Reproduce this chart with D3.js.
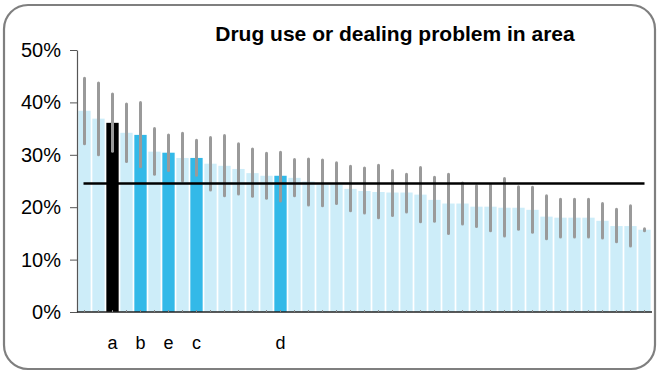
<!DOCTYPE html>
<html><head><meta charset="utf-8">
<script src="https://cdn.jsdelivr.net/npm/d3@7/dist/d3.min.js"></script>
<style>html,body{margin:0;padding:0;background:#fff;}svg{display:block;}</style>
</head><body>
<svg id="chart" width="659" height="373"></svg>
<script>
const title = "Drug use or dealing problem in area";
const labels = ["","","a","","b","","e","","c","","","","","","d","","","","","","","","","","","","","","","","","","","","","","","","","",""];
const kinds = ["o","o","k","o","h","o","h","o","h","o","o","o","o","o","h","o","o","o","o","o","o","o","o","o","o","o","o","o","o","o","o","o","o","o","o","o","o","o","o","o","o"];
const values = [38.4,36.9,36.1,34.2,33.8,30.6,30.4,29.4,29.4,28.3,27.9,27.3,26.5,26.0,26.0,25.6,24.9,24.3,24.3,23.5,23.1,22.9,22.8,22.8,22.4,21.4,20.7,20.7,20.1,20.1,19.9,19.9,19.5,18.2,18.0,18.0,18.0,17.4,16.4,16.4,15.7];
const upper = [44.6,43.7,41.6,39.7,40.0,35.0,33.8,34.1,32.8,33.3,33.7,32.1,31.1,30.3,30.5,29.1,29.2,29.0,28.5,27.8,27.5,28.0,27.0,26.3,27.6,25.7,26.3,24.6,24.1,24.3,25.5,23.9,23.8,22.2,21.5,21.5,21.5,20.7,19.6,20.3,15.9];
const lower = [32.1,30.0,30.7,28.7,27.7,26.3,27.0,25.0,26.1,23.3,22.2,22.5,22.1,21.7,21.2,22.2,20.4,20.3,20.7,19.3,18.9,18.0,18.4,19.1,17.2,17.3,15.0,16.8,16.3,15.5,14.5,15.8,15.2,14.0,14.3,14.3,14.3,14.1,13.4,12.6,15.5];
const average = 24.5;
const yTicks = [0,10,20,30,40,50];

const svg = d3.select("#chart");
const ids = values.map((v,i)=>i);
const x = d3.scaleBand().domain(ids).range([77.5,651.5]).paddingInner(0.12).paddingOuter(0.06);
const y = d3.scaleLinear().domain([0,50]).range([312,50]);
const color = {o:"#cdedf9", h:"#33b9e8", k:"#000000"};

svg.append("rect").attr("x",4).attr("y",5).attr("width",651).attr("height",364)
  .attr("rx",24).attr("ry",24).attr("fill","#fff").attr("stroke","#7f7f7f").attr("stroke-width",2.2);

svg.append("text").attr("x",395).attr("y",41).attr("text-anchor","middle")
  .attr("font-family","Liberation Sans, Arial, sans-serif").attr("font-weight","bold")
  .attr("font-size",21).attr("fill","#000").text(title);

svg.append("g").selectAll("rect").data(ids).join("rect")
  .attr("x",i=>x(i)).attr("width",x.bandwidth())
  .attr("y",i=>y(values[i])).attr("height",i=>y(0)-y(values[i]))
  .attr("fill",i=>color[kinds[i]]);

svg.append("g").selectAll("line").data(ids).join("line")
  .attr("x1",i=>x(i)+x.bandwidth()/2).attr("x2",i=>x(i)+x.bandwidth()/2)
  .attr("y1",i=>y(upper[i])).attr("y2",i=>y(lower[i]))
  .attr("stroke","#9a9a9a").attr("stroke-width",3).attr("stroke-linecap","round");

svg.append("line")
  .attr("x1",x(0)+x.bandwidth()/2-1).attr("x2",x(ids.length-1)+x.bandwidth()/2)
  .attr("y1",y(average)).attr("y2",y(average))
  .attr("stroke","#000").attr("stroke-width",2.5);

const yAxis = svg.append("g").attr("transform","translate(77,0)")
  .call(d3.axisLeft(y).tickValues(yTicks).tickFormat(d=>d+"%").tickSize(7).tickSizeOuter(0).tickPadding(9));
yAxis.select(".domain").attr("stroke","#555").attr("stroke-width",1.2);
yAxis.selectAll(".tick line").attr("stroke","#555");
yAxis.selectAll("text").attr("font-family","Liberation Sans, Arial, sans-serif").attr("font-size",20).attr("fill","#000");

const xAxis = svg.append("g").attr("transform","translate(0,312)")
  .call(d3.axisBottom(x).tickFormat(i=>labels[i]).tickSize(-2).tickSizeOuter(0).tickPadding(24));
xAxis.select(".domain").attr("stroke","#222").attr("stroke-width",1.5)
  .attr("d","M77,0H652");
xAxis.selectAll(".tick line").attr("stroke","#888");
xAxis.selectAll("text").attr("font-family","Liberation Sans, Arial, sans-serif").attr("font-size",18).attr("fill","#000");
</script>
</body></html>
